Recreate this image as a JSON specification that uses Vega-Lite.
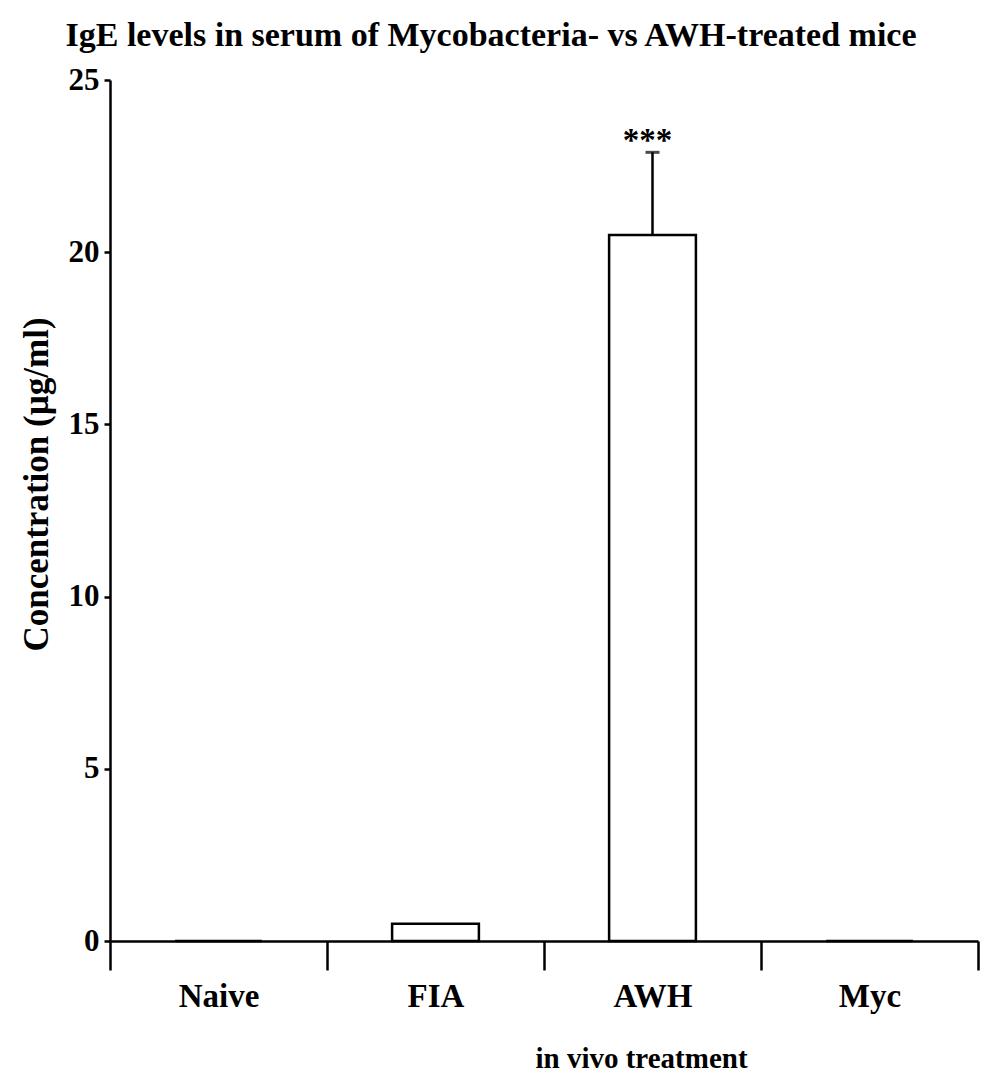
{
  "$schema": "https://vega.github.io/schema/vega-lite/v6.json",
  "width": 868,
  "height": 861,
  "autosize": "none",
  "padding": {"left": 110, "top": 80, "right": 4, "bottom": 140},
  "background": "white",
  "config": {"view": {"stroke": null}, "font": "Liberation Serif"},
  "title": {
    "text": "IgE levels in serum of Mycobacteria- vs AWH-treated mice",
    "font": "Liberation Serif",
    "fontSize": 34,
    "fontWeight": "bold",
    "color": "black",
    "anchor": "middle",
    "dx": -53,
    "offset": 11
  },
  "data": {
    "values": [
      {"treatment": "Naive", "concentration": 0},
      {"treatment": "FIA", "concentration": 0.5},
      {"treatment": "AWH", "concentration": 20.5, "upper": 22.9, "sig": "***"},
      {"treatment": "Myc", "concentration": 0}
    ]
  },
  "encoding": {
    "x": {
      "field": "treatment",
      "type": "nominal",
      "sort": ["Naive", "FIA", "AWH", "Myc"],
      "scale": {"paddingInner": 0, "paddingOuter": 0},
      "axis": {
        "title": "in vivo treatment",
        "labelAngle": 0,
        "tickBand": "extent",
        "tickSize": 29,
        "tickWidth": 2.5,
        "tickColor": "black",
        "domainWidth": 2.5,
        "domainColor": "black",
        "labelFont": "Liberation Serif",
        "labelFontSize": 33,
        "labelFontWeight": "bold",
        "labelColor": "black",
        "labelPadding": 10,
        "titleFont": "Liberation Serif",
        "titleFontSize": 29,
        "titleFontWeight": "bold",
        "titleColor": "black",
        "titlePadding": 31,
        "titleX": 531,
        "titleAnchor": null
      }
    }
  },
  "layer": [
    {
      "mark": {"type": "bar", "width": {"band": 0.4}, "fill": "white", "stroke": "black", "strokeWidth": 2.5},
      "encoding": {
        "y": {
          "field": "concentration",
          "type": "quantitative",
          "title": "Concentration (µg/ml)",
          "scale": {"domain": [0, 25], "nice": false},
          "axis": {
            "values": [0, 5, 10, 15, 20, 25],
            "grid": false,
            "tickSize": 6,
            "tickWidth": 2.5,
            "tickColor": "black",
            "domainWidth": 2.5,
            "domainColor": "black",
            "labelFont": "Liberation Serif",
            "labelFontSize": 31,
            "labelFontWeight": "bold",
            "labelColor": "black",
            "labelPadding": 5,
            "titleFont": "Liberation Serif",
            "titleFontSize": 35,
            "titleFontWeight": "bold",
            "titleColor": "black",
            "titlePadding": 14,
            "titleY": 404
          }
        }
      }
    },
    {
      "transform": [{"filter": "isValid(datum.upper)"}],
      "mark": {"type": "rule", "strokeWidth": 2.5, "color": "black"},
      "encoding": {
        "y": {"field": "concentration", "type": "quantitative", "title": "Concentration (µg/ml)"},
        "y2": {"field": "upper"}
      }
    },
    {
      "transform": [{"filter": "isValid(datum.upper)"}],
      "mark": {"type": "tick", "size": 14, "thickness": 3, "color": "black"},
      "encoding": {
        "y": {"field": "upper", "type": "quantitative", "title": "Concentration (µg/ml)"}
      }
    },
    {
      "transform": [{"filter": "isValid(datum.upper)"}],
      "mark": {"type": "text", "font": "Liberation Serif", "fontSize": 33, "fontWeight": "bold", "baseline": "alphabetic", "dy": -1, "dx": -5, "color": "black"},
      "encoding": {
        "y": {"field": "upper", "type": "quantitative", "title": "Concentration (µg/ml)"},
        "text": {"field": "sig"}
      }
    }
  ]
}
